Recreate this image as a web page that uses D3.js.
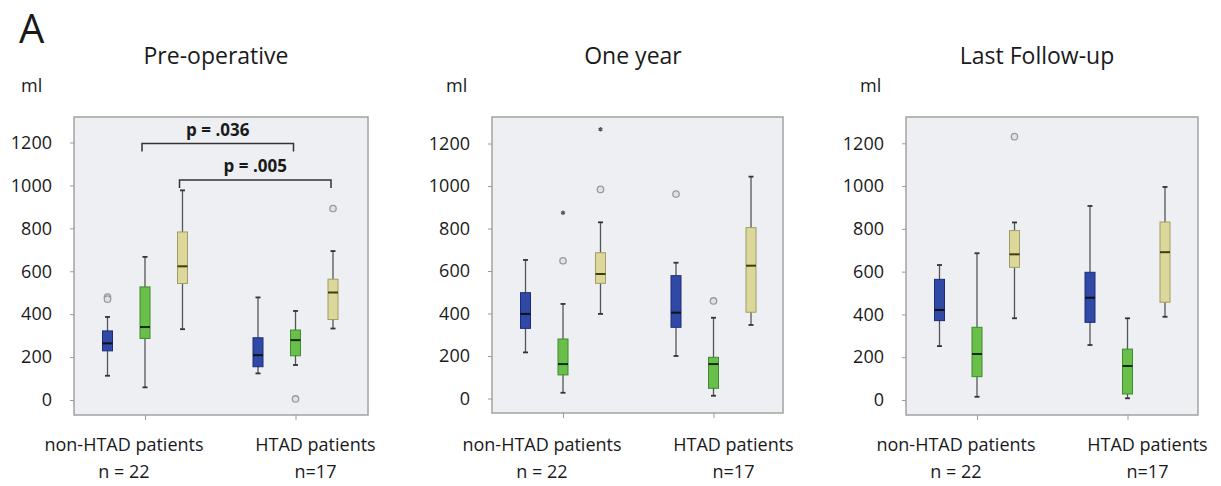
<!DOCTYPE html>
<html>
<head>
<meta charset="utf-8">
<script src="https://cdn.jsdelivr.net/npm/d3@7"></script>
<style>
  html, body { margin: 0; padding: 0; background: #ffffff; }
  svg { display: block; }
  text { font-family: "Open Sans", Lato, sans-serif; fill: #1a1a1a; }
</style>
</head>
<body>
<svg id="chart" width="1221" height="486"></svg>
<script>
// ---------------- DATA ----------------
const panelTitles = ["Pre-operative", "One year", "Last Follow-up"];
const groups = ["non-HTAD patients", "HTAD patients"];
const groupN = ["n = 22", "n=17"];
const series = ["blue", "green", "khaki"];
const yTicks = [0, 200, 400, 600, 800, 1000, 1200];
const yUnit = "ml";
const panelLetter = "A";

// [group index, series index, lower whisker, Q1, median, Q3, upper whisker]
const preOpBoxes = [
  [0, 0, 113, 229, 264, 322, 387],
  [0, 1, 59, 287, 340, 527, 667],
  [0, 2, 330, 543, 623, 783, 977],
  [1, 0, 124, 155, 209, 290, 478],
  [1, 1, 163, 206, 279, 326, 415],
  [1, 2, 333, 375, 501, 563, 694]
];
// [group index, series index, value, kind]  kind: "o" circle, "*" extreme
const preOpOutliers = [
  [0, 0, 480, "o"], [0, 0, 470, "o"],
  [1, 1, 5, "o"],
  [1, 2, 892, "o"]
];

const oneYearBoxes = [
  [0, 0, 217, 330, 398, 498, 652],
  [0, 1, 27, 111, 162, 280, 445],
  [0, 2, 398, 542, 586, 686, 829],
  [1, 0, 200, 335, 404, 578, 639],
  [1, 1, 13, 48, 162, 194, 380],
  [1, 2, 346, 406, 625, 804, 1044]
];
const oneYearOutliers = [
  [0, 1, 648, "o"], [0, 1, 874, "*"],
  [0, 2, 984, "o"], [0, 2, 1267, "*"],
  [1, 0, 962, "o"],
  [1, 1, 459, "o"]
];

const lastFuBoxes = [
  [0, 0, 252, 371, 421, 564, 631],
  [0, 1, 15, 109, 215, 340, 686],
  [0, 2, 382, 620, 681, 792, 830],
  [1, 0, 257, 363, 478, 597, 907],
  [1, 1, 8, 28, 159, 238, 382],
  [1, 2, 389, 457, 691, 832, 996]
];
const lastFuOutliers = [
  [0, 2, 1231, "o"]
];

// significance brackets (pre-operative only): [series index, top value, label]
const preOpBrackets = [
  [1, 1195, "p = .036"],
  [2, 1025, "p = .005"]
];

// ---------------- LAYOUT / STYLE ----------------
const W = 1221, H = 486;
const fills   = { blue: "#3149a6", green: "#68c04a", khaki: "#dcd89c" };
const strokes = { blue: "#1d2c78", green: "#3e8a2e", khaki: "#a29e62" };
const medians = { blue: "#111111", green: "#162a10", khaki: "#3f3b12" };

const layouts = [
  { x0: 74,  x1: 368, top: 117, bottom: 415, y0: 400,   y1200: 142.5, titleX: 216,  mlX: 21 },
  { x0: 492, x1: 783, top: 117, bottom: 413, y0: 398.5, y1200: 143.5, titleX: 633,  mlX: 446 },
  { x0: 906, x1: 1198, top: 117, bottom: 415, y0: 400,  y1200: 143.3, titleX: 1037, mlX: 860 }
];
const panelData = [
  { boxes: preOpBoxes, outliers: preOpOutliers, brackets: preOpBrackets },
  { boxes: oneYearBoxes, outliers: oneYearOutliers, brackets: [] },
  { boxes: lastFuBoxes, outliers: lastFuOutliers, brackets: [] }
];

const svg = d3.select("#chart");
svg.append("rect").attr("width", W).attr("height", H).attr("fill", "#ffffff");

svg.append("text").text(panelLetter)
  .attr("x", 19).attr("y", 43)
  .attr("font-size", 40);

panelData.forEach((pd, i) => {
  const L = layouts[i];
  const g = svg.append("g");

  const y = d3.scaleLinear().domain([0, 1200]).range([L.y0, L.y1200]);
  const x = d3.scalePoint().domain(groups).range([L.x0 + 71, L.x0 + 221.5]);
  const off = d3.scalePoint().domain(series).range([-37.5, 37.5]);
  const bx = (gi, si) => x(groups[gi]) + off(series[si]);

  // title and unit
  g.append("text").text(panelTitles[i])
    .attr("x", L.titleX).attr("y", 64)
    .attr("text-anchor", "middle").attr("font-size", 23);
  g.append("text").text(yUnit)
    .attr("x", L.mlX).attr("y", 92).attr("font-size", 18);

  // frame
  g.append("rect")
    .attr("x", L.x0).attr("y", L.top)
    .attr("width", L.x1 - L.x0).attr("height", L.bottom - L.top)
    .attr("fill", "#eeeff3").attr("stroke", "#a3a3a3").attr("stroke-width", 1.5);

  // y axis
  const ya = g.append("g").attr("transform", `translate(${L.x0},0)`)
    .call(d3.axisLeft(y).tickValues(yTicks).tickSize(4).tickPadding(18).tickFormat(d3.format("d")));
  ya.select(".domain").remove();
  ya.selectAll(".tick line").attr("stroke", "#9a9a9a");
  ya.selectAll(".tick text").attr("font-size", 18).attr("fill", "#1a1a1a")
    .style("font-family", "'Open Sans', Lato, sans-serif");

  // x axis ticks
  const xa = g.append("g").attr("transform", `translate(0,${L.bottom})`)
    .call(d3.axisBottom(x).tickSize(5).tickFormat(""));
  xa.select(".domain").remove();
  xa.selectAll(".tick line").attr("stroke", "#9a9a9a");

  // x labels
  groups.forEach((gname, gi) => {
    const cx = x(gname) + (gi === 0 ? -21 : 20);
    g.append("text").text(gname)
      .attr("x", cx).attr("y", 451).attr("text-anchor", "middle").attr("font-size", 18);
    g.append("text").text(groupN[gi])
      .attr("x", cx).attr("y", 478).attr("text-anchor", "middle").attr("font-size", 18);
  });

  // boxes
  const bw = 10, cap = 5;
  pd.boxes.forEach(b => {
    const [gi, si, lo, q1, med, q3, hi] = b;
    const cx = bx(gi, si);
    const s = series[si];
    g.append("line").attr("x1", cx).attr("x2", cx).attr("y1", y(lo)).attr("y2", y(hi))
      .attr("stroke", "#555555").attr("stroke-width", 1.3);
    [lo, hi].forEach(v => g.append("line")
      .attr("x1", cx - cap / 2).attr("x2", cx + cap / 2).attr("y1", y(v)).attr("y2", y(v))
      .attr("stroke", "#333333").attr("stroke-width", 1.8));
    g.append("rect").attr("x", cx - bw / 2).attr("y", y(q3))
      .attr("width", bw).attr("height", y(q1) - y(q3))
      .attr("fill", fills[s]).attr("stroke", strokes[s]).attr("stroke-width", 1);
    g.append("line").attr("x1", cx - bw / 2).attr("x2", cx + bw / 2)
      .attr("y1", y(med)).attr("y2", y(med))
      .attr("stroke", medians[s]).attr("stroke-width", 2);
  });

  // outliers
  pd.outliers.forEach(o => {
    const [gi, si, v, kind] = o;
    const cx = bx(gi, si);
    if (kind === "*") {
      g.append("path").attr("d", d3.symbol(d3.symbolAsterisk, 14)())
        .attr("transform", `translate(${cx},${y(v)})`)
        .attr("stroke", "#555555").attr("stroke-width", 1.2).attr("fill", "none");
    } else {
      g.append("circle").attr("cx", cx).attr("cy", y(v)).attr("r", 3.2)
        .attr("fill", "#e2e2e4").attr("stroke", "#9a9a9a").attr("stroke-width", 1.3);
    }
  });

  // brackets
  pd.brackets.forEach(br => {
    const [si, v, label] = br;
    const xa0 = bx(0, si) - 3, xa1 = bx(1, si) - 2;
    const yy = y(v);
    g.append("path")
      .attr("d", `M${xa0},${yy + 8}V${yy}H${xa1}V${yy + 8}`)
      .attr("fill", "none").attr("stroke", "#333333").attr("stroke-width", 1.5);
    g.append("text").text(label)
      .attr("x", (xa0 + xa1) / 2).attr("y", yy - 8)
      .attr("text-anchor", "middle").attr("font-size", 17).attr("font-weight", "bold");
  });
});
</script>
</body>
</html>
